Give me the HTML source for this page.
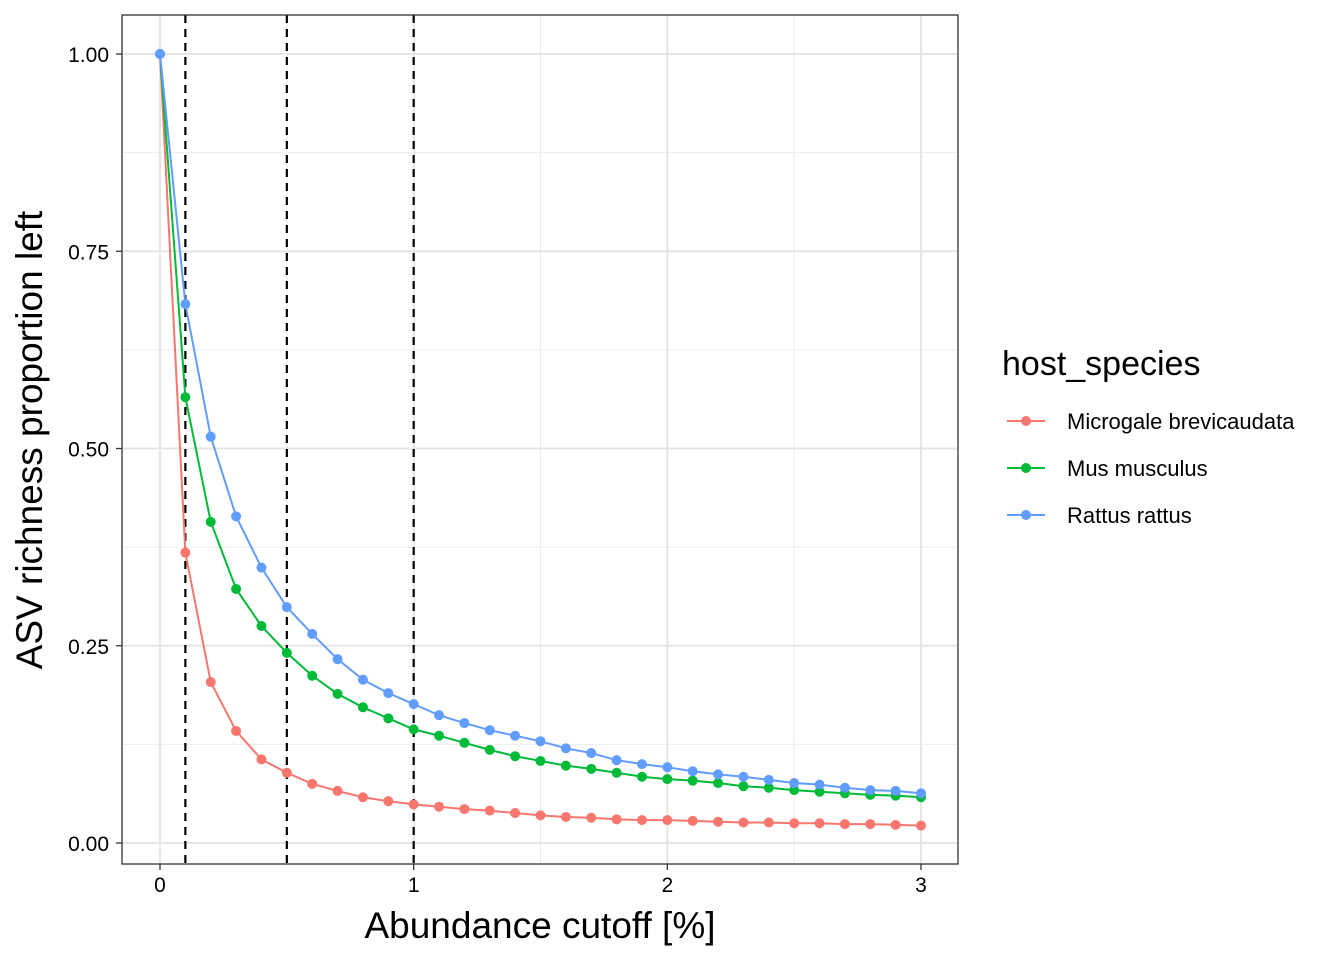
<!DOCTYPE html>
<html><head><meta charset="utf-8"><style>body{margin:0;background:#fff}svg{display:block;font-family:"Liberation Sans",Arial,sans-serif}</style></head>
<body>
<svg id="chart" width="1344" height="960" xmlns="http://www.w3.org/2000/svg"></svg>
<script>
const xs = [0,0.1,0.2,0.3,0.4,0.5,0.6,0.7,0.8,0.9,1.0,1.1,1.2,1.3,1.4,1.5,1.6,1.7,1.8,1.9,2.0,2.1,2.2,2.3,2.4,2.5,2.6,2.7,2.8,2.9,3.0];
const microgale = [1,0.368,0.204,0.142,0.106,0.089,0.075,0.066,0.058,0.053,0.049,0.046,0.043,0.041,0.038,0.035,0.033,0.032,0.030,0.029,0.029,0.028,0.027,0.026,0.026,0.025,0.025,0.024,0.024,0.023,0.022];
const mus = [1,0.565,0.407,0.322,0.275,0.241,0.212,0.189,0.172,0.158,0.144,0.136,0.127,0.118,0.110,0.104,0.098,0.094,0.089,0.084,0.081,0.079,0.076,0.072,0.070,0.067,0.065,0.063,0.061,0.060,0.058];
const rattus = [1,0.683,0.515,0.414,0.349,0.299,0.265,0.233,0.207,0.190,0.176,0.162,0.152,0.143,0.136,0.129,0.120,0.114,0.105,0.100,0.096,0.091,0.087,0.084,0.080,0.076,0.074,0.070,0.067,0.066,0.063];
const seriesNames = ["Microgale brevicaudata","Mus musculus","Rattus rattus"];
const seriesColors = ["#F8766D","#00BA38","#619CFF"];
const xTicks = [0,1,2,3];
const yTicks = [0,0.25,0.5,0.75,1];
const yTickLabels = ["0.00","0.25","0.50","0.75","1.00"];
const cutoffs = [0.1,0.5,1];

const svg = document.getElementById('chart');
const NS = 'http://www.w3.org/2000/svg';
const X = v => 160 + v*253.67;
const Y = v => 843 - v*789;
function mk(tag, attrs, parent){const e=document.createElementNS(NS,tag);for(const k in attrs)e.setAttribute(k,attrs[k]);(parent||svg).appendChild(e);return e;}
const L=122,R=958,T=15,B=864;
const grid = mk('g',{});


[0.5,1.5,2.5].forEach(v=>mk('line',{x1:X(v),x2:X(v),y1:T,y2:B,stroke:'#ebebeb','stroke-width':1},grid));
[0.125,0.375,0.625,0.875].forEach(v=>mk('line',{x1:L,x2:R,y1:Y(v),y2:Y(v),stroke:'#ebebeb','stroke-width':1},grid));
xTicks.forEach(v=>mk('line',{x1:X(v),x2:X(v),y1:T,y2:B,stroke:'#e5e5e5','stroke-width':2},grid));
yTicks.forEach(v=>mk('line',{x1:L,x2:R,y1:Y(v),y2:Y(v),stroke:'#e5e5e5','stroke-width':2},grid));
cutoffs.forEach(v=>{const l=mk('line',{x1:X(v),x2:X(v),y1:T,y2:B,stroke:'#000','stroke-width':2.2,'stroke-dasharray':'8,6'});

});
const all=[microgale,mus,rattus];
all.forEach((d,i)=>{const g=mk('g',{});


mk('polyline',{points:d.map((v,j)=>X(xs[j])+','+Y(v)).join(' '),fill:'none',stroke:seriesColors[i],'stroke-width':2},g);
d.forEach((v,j)=>{const c=mk('circle',{cx:X(xs[j]),cy:Y(v),r:5,fill:seriesColors[i]},g);

});});
const frame=mk('rect',{x:L,y:T,width:R-L,height:B-T,fill:'none',stroke:'#333','stroke-width':1.3});


xTicks.forEach(v=>{mk('line',{x1:X(v),x2:X(v),y1:B,y2:B+6,stroke:'#333','stroke-width':1.3});
const t=mk('text',{x:X(v),y:B+28,'text-anchor':'middle','font-size':21,fill:'#000'});t.textContent=v;

});
yTicks.forEach((v,i)=>{mk('line',{x1:L-6,x2:L,y1:Y(v),y2:Y(v),stroke:'#333','stroke-width':1.3});
const t=mk('text',{x:L-13,y:Y(v)+8,'text-anchor':'end','font-size':21,fill:'#000'});t.textContent=yTickLabels[i];

});
const xt=mk('text',{x:540,y:938,'text-anchor':'middle','font-size':37});xt.textContent='Abundance cutoff [%]';


const yt=mk('text',{x:0,y:0,'text-anchor':'middle','font-size':37,transform:'translate(42,440) rotate(-90)'});yt.textContent='ASV richness proportion left';


const lg=mk('g',{});


const lt=mk('text',{x:1002,y:375,'font-size':34},lg);lt.textContent='host_species';


seriesNames.forEach((n,i)=>{const y=421+i*47;const e=mk('g',{},lg);


mk('line',{x1:1007,x2:1045,y1:y,y2:y,stroke:seriesColors[i],'stroke-width':2},e);
mk('circle',{cx:1026,cy:y,r:5,fill:seriesColors[i]},e);
const t=mk('text',{x:1067,y:y+8,'font-size':22},e);t.textContent=n;});
</script>
</body></html>
